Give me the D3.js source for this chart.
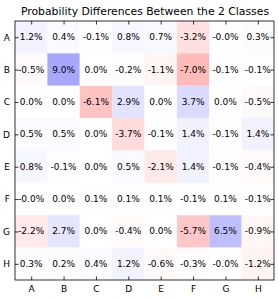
<!DOCTYPE html>
<html>
<head>
<meta charset="utf-8">
<script src="https://cdn.jsdelivr.net/npm/d3@7"></script>
<style>
	body { margin: 0; background: #fff; }
	text { font-family: "DejaVu Sans", sans-serif; fill: #000; }
</style>
</head>
<body>
<svg width="279" height="298"></svg>
<script>
// classes on both axes
var rowLabels = ["A", "B", "C", "D", "E", "F", "G", "H"];
var colLabels = ["A", "B", "C", "D", "E", "F", "G", "H"];

// differences in percent, one array per row ( -0.02 shows as -0.0 )
var rowA = [1.2, 0.4, -0.1, 0.8, 0.7, -3.2, -0.02, 0.3];
var rowB = [-0.5, 9.0, 0.0, -0.2, -1.1, -7.0, -0.1, -0.1];
var rowC = [0.0, 0.0, -6.1, 2.9, 0.0, 3.7, 0.0, -0.5];
var rowD = [0.5, 0.5, 0.0, -3.7, -0.1, 1.4, -0.1, 1.4];
var rowE = [0.8, -0.1, 0.0, 0.5, -2.1, 1.4, -0.1, -0.4];
var rowF = [-0.02, 0.0, 0.1, 0.1, 0.1, -0.1, 0.1, -0.1];
var rowG = [-2.2, 2.7, 0.0, -0.4, 0.0, -5.7, 6.5, -0.9];
var rowH = [0.3, 0.2, 0.4, 1.2, -0.6, -0.3, -0.02, -1.2];

var rows = [rowA, rowB, rowC, rowD, rowE, rowF, rowG, rowH];

var svg = d3.select("svg");
// plot box (note: "top" is a reserved window global)
var pLeft = 15, pRight = 274, pTop = 21, pBottom = 280;

var x = d3.scaleBand().domain(colLabels).range([pLeft, pRight]);
var y = d3.scaleBand().domain(rowLabels).range([pTop, pBottom]);

// bwr reversed: positive blue, negative red
var color = d3.scaleLinear().domain([-26, 0, 26]).range(["#ff0000", "#ffffff", "#0000ff"]);

var cells = [];
rows.forEach(function(r, i) {
	r.forEach(function(v, j) {
		cells.push({ row: rowLabels[i], col: colLabels[j], value: v });
	});
});

function fmt(v) {
	return (v < 0 ? "-" : "") + Math.abs(v).toFixed(1) + "%";
}

svg.append("g")
	.selectAll("rect")
	.data(cells)
	.enter()
	.append("rect")
	.attr("x", function(d) { return x(d.col); })
	.attr("y", function(d) { return y(d.row); })
	.attr("width", x.bandwidth())
	.attr("height", y.bandwidth())
	.attr("fill", function(d) { return color(d.value); });

svg.append("g")
	.selectAll("text")
	.data(cells)
	.enter()
	.append("text")
	.attr("x", function(d) { return x(d.col) + x.bandwidth() / 2; })
	.attr("y", function(d) { return y(d.row) + y.bandwidth() / 2; })
	.attr("text-anchor", "middle")
	.attr("dominant-baseline", "central")
	.style("font-size", "9px")
	.text(function(d) { return fmt(d.value); });

// axes, ticks pointing inward
var tickLen = 3.5;
var xCenter = function(c) { return x(c) + x.bandwidth() / 2; };
var yCenter = function(r) { return y(r) + y.bandwidth() / 2; };
var xPts = d3.scalePoint().domain(colLabels).range([xCenter("A"), xCenter("H")]);
var yPts = d3.scalePoint().domain(rowLabels).range([yCenter("A"), yCenter("H")]);

var bottomAxis = svg.append("g").attr("transform", "translate(0," + pBottom + ")")
	.call(d3.axisBottom(xPts).tickSize(-tickLen).tickPadding(6));
var topAxis = svg.append("g").attr("transform", "translate(0," + pTop + ")")
	.call(d3.axisTop(xPts).tickSize(-tickLen).tickFormat(""));
var leftAxis = svg.append("g").attr("transform", "translate(" + pLeft + ",0)")
	.call(d3.axisLeft(yPts).tickSize(-tickLen).tickPadding(5));
var rightAxis = svg.append("g").attr("transform", "translate(" + pRight + ",0)")
	.call(d3.axisRight(yPts).tickSize(-tickLen).tickFormat(""));

[bottomAxis, topAxis, leftAxis, rightAxis].forEach(function(a) {
	a.select(".domain").remove();
	a.attr("font-family", null).attr("font-size", null);
	a.selectAll("text").style("font-size", "9px");
	a.selectAll("line").attr("stroke", "#000").attr("stroke-width", 0.8);
});

// frame
svg.append("rect")
	.attr("x", pLeft)
	.attr("y", pTop)
	.attr("width", pRight - pLeft)
	.attr("height", pBottom - pTop)
	.attr("fill", "none")
	.attr("stroke", "#000")
	.attr("stroke-width", 0.8);

svg.append("text")
	.attr("x", 145)
	.attr("y", 11)
	.attr("text-anchor", "middle")
	.attr("dominant-baseline", "central")
	.style("font-size", "10.8px")
	.text("Probability Differences Between the 2 Classes");
</script>
</body>
</html>
